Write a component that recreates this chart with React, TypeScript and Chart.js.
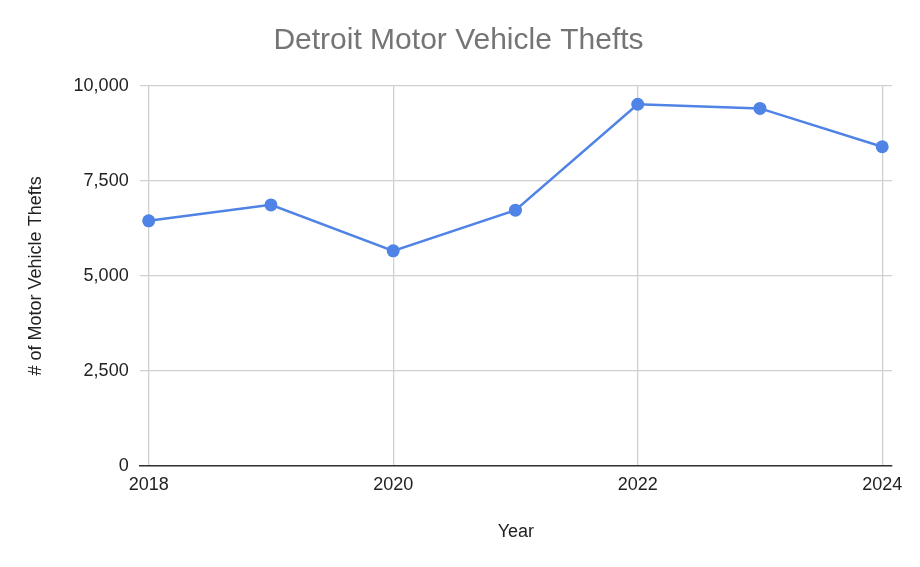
import React, { useEffect, useRef } from 'react';
import { Chart, registerables } from 'chart.js';

Chart.register(...registerables);

// Detroit motor vehicle thefts per year
const years = [2018, 2019, 2020, 2021, 2022, 2023, 2024];
const thefts = [6450, 6870, 5660, 6730, 9520, 9410, 8400];
const yearTicks = [2018, 2020, 2022, 2024];
const theftTicks = [0, 2500, 5000, 7500, 10000];

const FONT = '"Liberation Sans", Arial, sans-serif';

const App: React.FC = () => {
  const canvasRef = useRef<HTMLCanvasElement>(null);
  const chartRef = useRef<Chart | null>(null);

  useEffect(() => {
    document.body.style.margin = '0';
    if (!canvasRef.current) return;
    const ctx = canvasRef.current.getContext('2d');
    if (!ctx) return;

    if (chartRef.current) chartRef.current.destroy();

    chartRef.current = new Chart(ctx, {
      type: 'line',
      data: {
        datasets: [
          {
            label: '# of Motor Vehicle Thefts',
            data: years.map((y, i) => ({ x: y, y: thefts[i] })),
            borderColor: '#4f83e6',
            backgroundColor: '#4f83e6',
            borderWidth: 2.5,
            pointRadius: 6.5,
            pointBorderWidth: 0,
            tension: 0,
          },
        ],
      },
      options: {
        animation: false,
        responsive: true,
        maintainAspectRatio: false,
        layout: { padding: { top: 10, right: 28, bottom: 24, left: 25 } },
        plugins: {
          legend: { display: false },
          tooltip: { enabled: false },
          title: {
            display: true,
            text: 'Detroit Motor Vehicle Thefts',
            color: '#757575',
            font: { family: FONT, size: 30, weight: 'normal' },
            padding: { top: 13, bottom: 27 },
          },
        },
        scales: {
          x: {
            type: 'linear',
            min: 2017.926,
            max: 2024.08,
            afterBuildTicks: (axis) => {
              axis.ticks = yearTicks.map((v) => ({ value: v }));
            },
            grid: { color: '#d0d0d0', lineWidth: 1.3, drawTicks: false },
            border: { display: true, color: '#333333', width: 1.5 },
            ticks: {
              color: '#222222',
              font: { family: FONT, size: 18 },
              padding: 8,
              callback: (v) => String(v),
            },
            title: {
              display: true,
              text: 'Year',
              color: '#222222',
              font: { family: FONT, size: 18 },
              padding: { top: 18, bottom: 0 },
            },
          },
          y: {
            min: 0,
            max: 10000,
            afterBuildTicks: (axis) => {
              axis.ticks = theftTicks.map((v) => ({ value: v }));
            },
            grid: { color: '#d0d0d0', lineWidth: 1.3, drawTicks: false },
            border: { display: false },
            ticks: {
              color: '#222222',
              font: { family: FONT, size: 18 },
              padding: 11,
              callback: (v) => Number(v).toLocaleString('en-US'),
            },
            title: {
              display: true,
              text: '# of Motor Vehicle Thefts',
              color: '#222222',
              font: { family: FONT, size: 18 },
              padding: { top: 0, bottom: 16 },
            },
          },
        },
      },
    });

    return () => {
      if (chartRef.current) {
        chartRef.current.destroy();
        chartRef.current = null;
      }
    };
  }, []);

  return (
    <div style={{ position: 'relative', width: '920px', height: '567px', background: '#ffffff' }}>
      <canvas ref={canvasRef} />
    </div>
  );
};

export default App;
